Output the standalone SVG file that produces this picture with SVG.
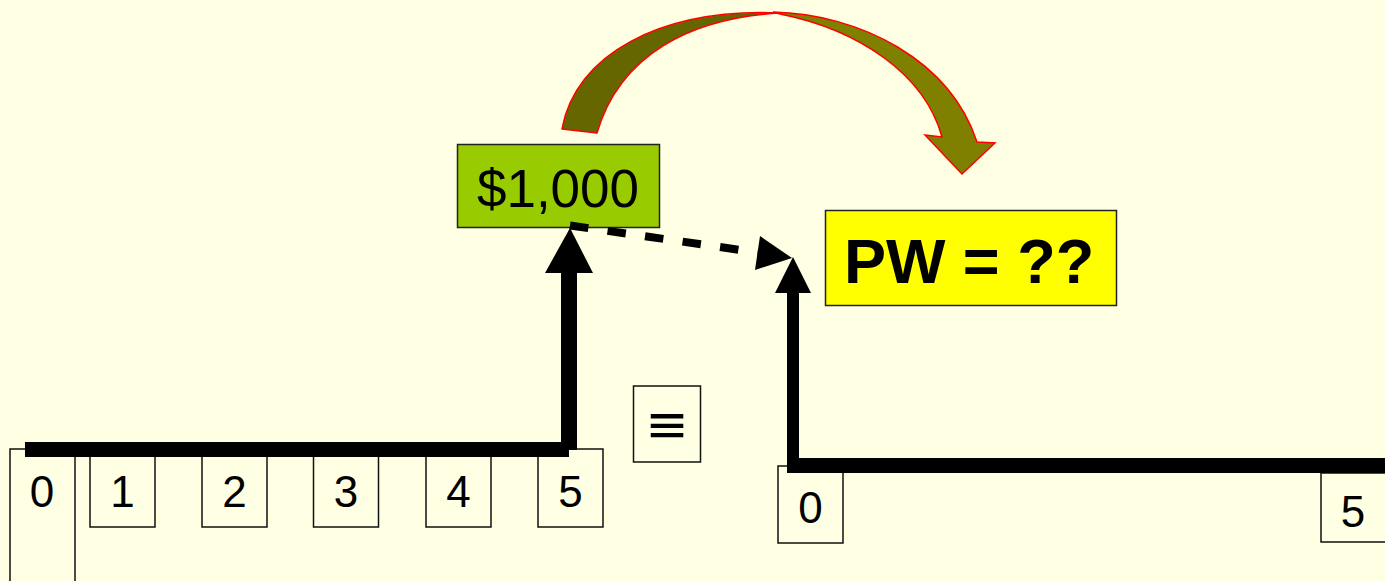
<svg xmlns="http://www.w3.org/2000/svg" width="1385" height="581" viewBox="0 0 1385 581">
  <style>
    .box { fill: #FFFFE3; stroke: #111; stroke-width: 1.5; }
    .num { font-family: "Liberation Sans", Arial, sans-serif; font-size: 44px; fill: #000; text-anchor: middle; }
    .bar { stroke: #000; fill: none; stroke-linecap: butt; }
  </style>
  <rect x="0" y="0" width="1385" height="581" fill="#FFFFE3"/>

  <g id="period-boxes-left">
    <g id="left-0"><rect class="box" x="10" y="449" width="65" height="140"/><text class="num" x="42" y="507">0</text></g>
    <g id="left-1"><rect class="box" x="90" y="449" width="65" height="78"/><text class="num" x="122.5" y="507">1</text></g>
    <g id="left-2"><rect class="box" x="202" y="449" width="65" height="78"/><text class="num" x="234.5" y="507">2</text></g>
    <g id="left-3"><rect class="box" x="313.5" y="449" width="65" height="78"/><text class="num" x="346" y="507">3</text></g>
    <g id="left-4"><rect class="box" x="426" y="449" width="65" height="78"/><text class="num" x="458.5" y="507">4</text></g>
    <g id="left-5"><rect class="box" x="538" y="449" width="65" height="78"/><text class="num" x="570.5" y="507">5</text></g>
  </g>

  <g id="equiv">
    <rect class="box" x="633.5" y="386" width="67" height="76"/>
    <text x="667" y="442" font-family="DejaVu Sans, sans-serif" font-size="52" text-anchor="middle" fill="#000">≡</text>
  </g>

  <g id="period-boxes-right">
    <g id="right-0"><rect class="box" x="778" y="466" width="65" height="77"/><text class="num" x="810.5" y="523">0</text></g>
    <g id="right-5"><rect class="box" x="1321" y="473" width="70" height="69"/><text class="num" x="1353" y="527">5</text></g>
  </g>

  <g id="amount">
    <rect x="457.5" y="144.5" width="202" height="83" fill="#99CC00" stroke="#222" stroke-width="1.5"/>
    <text x="558" y="207" font-family="Liberation Sans, Arial, sans-serif" font-size="53" text-anchor="middle" fill="#000">$1,000</text>
  </g>

  <g id="pw">
    <rect x="825.5" y="210.5" width="291" height="95" fill="#FFFF00" stroke="#222" stroke-width="1.5"/>
    <text x="969" y="283" font-family="Liberation Sans, Arial, sans-serif" font-size="63" font-weight="bold" text-anchor="middle" fill="#000">PW = ??</text>
  </g>

  <g id="connectors">
    <!-- left time line and cash flow arrow -->
    <line class="bar" x1="25" y1="449.5" x2="569" y2="449.5" stroke-width="15"/>
    <line class="bar" x1="569" y1="450" x2="569" y2="270" stroke-width="16"/>
    <polygon points="570,228 545,273 593,273" fill="#000"/>
    <!-- right time line and arrow -->
    <line class="bar" x1="793" y1="465.5" x2="1385" y2="465.5" stroke-width="15"/>
    <line class="bar" x1="793" y1="473" x2="793" y2="290" stroke-width="12"/>
    <polygon points="793,257 775,293 811,293" fill="#000"/>
    <!-- dashed transfer arrow -->
    <line x1="570" y1="225.5" x2="758" y2="252.5" stroke="#000" stroke-width="8" stroke-dasharray="18.5 19.4"/>
    <polygon points="760,236 755,270 792,258" fill="#000"/>
    <!-- curved block arrow -->
    <path d="M562,129 C575,55 660,8 780,13 C690,18 620,55 597,133 Z" fill="#666600" stroke="#FF0000" stroke-width="1.5" stroke-linejoin="round"/>
    <path d="M773,12 C860,14 950,60 977,142 L995,143 L962,174 L925,135 L942,137 C925,75 860,30 780,14 Z" fill="#7F7F00" stroke="#FF0000" stroke-width="1.5" stroke-linejoin="miter"/>
  </g>
</svg>
